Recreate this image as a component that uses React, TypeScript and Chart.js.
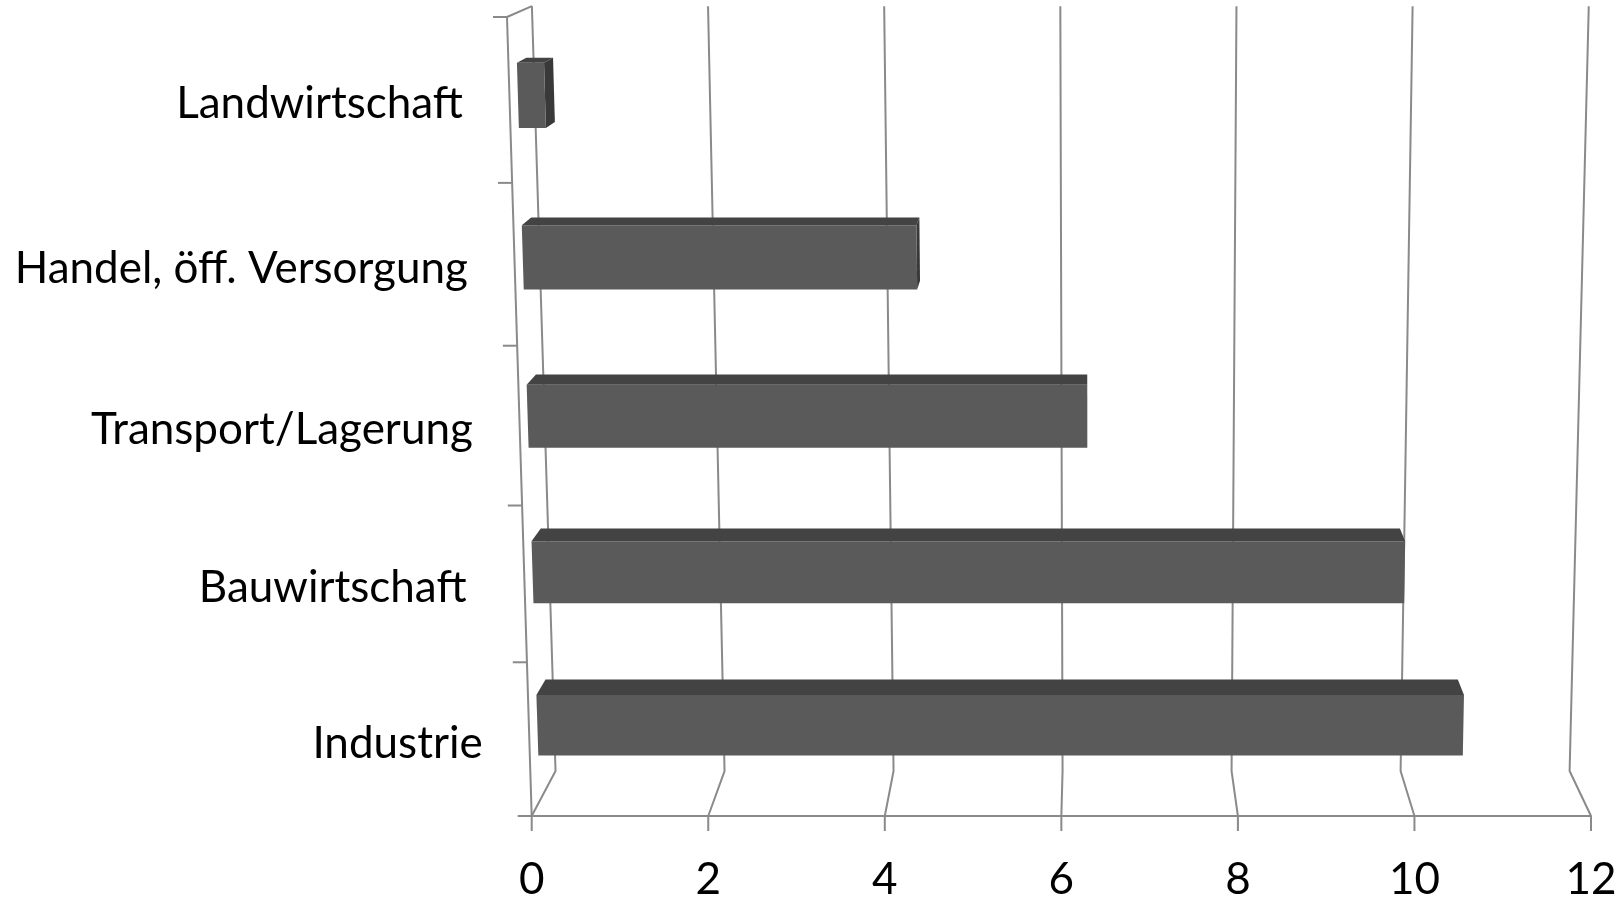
import React, { useEffect, useRef } from "react";
import { Chart, registerables } from "chart.js";

Chart.register(...registerables);

// Sectors and their values
const CATEGORIES = [
  "Landwirtschaft",
  "Handel, öff. Versorgung",
  "Transport/Lagerung",
  "Bauwirtschaft ",
  "Industrie",
];
const VALUES = [0.3, 4.4, 6.3, 9.9, 10.6];
const X_TICKS = [0, 2, 4, 6, 8, 10, 12];

// Look of the pseudo-3D box
const FRONT_COLOR = "#5a5a5a";
const TOP_COLOR = "#434343";
const SIDE_COLOR = "#393939";
const GRID_COLOR = "#8a8a8a";
const FONT = "44px Lato";

// Perspective parameters of the 3D frame
const LEAN_LEFT = 24.7; // left front edge leans left towards the top
const LEAN_RIGHT = 20; // right front edge leans right towards the top
const DEPTH = 0.0427; // shrink towards the vanishing point for full depth
const WARP = 5.95e-5; // vertical foreshortening of the rows
const BAR_FRONT = 0.34;
const BAR_BACK = 0.72;

type Area = { left: number; right: number; top: number; bottom: number };

function project(ca: Area, p: number, y: number, d: number): [number, number] {
  const t = (y - ca.top) / (ca.bottom - ca.top);
  const u = (p - ca.left) / (ca.right - ca.left);
  const lf = ca.left - LEAN_LEFT * (1 - t);
  const rf = ca.right + LEAN_RIGHT * (1 - t);
  const xf = lf + u * (rf - lf);
  const yw = y + WARP * (y - ca.top) * (ca.bottom - y);
  const vx = ca.left + 0.527 * (ca.right - ca.left);
  const vy = ca.top - 254;
  return [xf + d * DEPTH * (vx - xf), yw + d * DEPTH * (vy - yw)];
}

const frame3d = {
  id: "frame3d",
  beforeDatasetsDraw(chart: any) {
    const { ctx, chartArea: ca, scales } = chart;
    const xs = scales.x;
    const ys = scales.y;
    ctx.save();
    ctx.strokeStyle = GRID_COLOR;
    ctx.lineWidth = 2;
    ctx.lineJoin = "round";

    // back wall gridlines, floor diagonals and tick marks
    X_TICKS.forEach((v) => {
      const p = xs.getPixelForValue(v);
      const a = project(ca, p, ca.top, 1);
      const b = project(ca, p, ca.bottom, 1);
      const c = project(ca, p, ca.bottom, 0);
      ctx.beginPath();
      ctx.moveTo(a[0], a[1]);
      ctx.lineTo(b[0], b[1]);
      ctx.lineTo(c[0], c[1]);
      ctx.lineTo(c[0], c[1] + 15);
      ctx.stroke();
    });

    // left wall front edge and its top
    const lt = project(ca, ca.left, ca.top, 0);
    const lb = project(ca, ca.left, ca.bottom, 0);
    const lbk = project(ca, ca.left, ca.top, 1);
    ctx.beginPath();
    ctx.moveTo(lbk[0], lbk[1]);
    ctx.lineTo(lt[0], lt[1]);
    ctx.lineTo(lb[0], lb[1]);
    ctx.stroke();

    // floor front line
    const rb = project(ca, ca.right, ca.bottom, 0);
    ctx.beginPath();
    ctx.moveTo(lb[0], lb[1]);
    ctx.lineTo(rb[0], rb[1]);
    ctx.stroke();

    // category tick marks on the left edge
    const c0 = ys.getPixelForValue(0);
    const band = ys.getPixelForValue(1) - c0;
    for (let i = 0; i <= CATEGORIES.length; i++) {
      const yb = c0 - band / 2 + i * band;
      const q = project(ca, ca.left, yb, 0);
      ctx.beginPath();
      ctx.moveTo(q[0] - 14, q[1]);
      ctx.lineTo(q[0], q[1]);
      ctx.stroke();
    }
    ctx.restore();
  },
  beforeDatasetDraw() {
    // bars are drawn as boxes below
    return false;
  },
  afterDatasetsDraw(chart: any) {
    const { ctx, chartArea: ca } = chart;
    const meta = chart.getDatasetMeta(0);
    ctx.save();
    meta.data.forEach((el: any) => {
      const { x, y, base, height } = el.getProps(["x", "y", "base", "height"], true);
      const y0 = y - height / 2;
      const y1 = y + height / 2;
      const A = project(ca, base, y0, BAR_FRONT);
      const B = project(ca, x, y0, BAR_FRONT);
      const C = project(ca, x, y1, BAR_FRONT);
      const D = project(ca, base, y1, BAR_FRONT);
      const A1 = project(ca, base, y0, BAR_BACK);
      const B1 = project(ca, x, y0, BAR_BACK);
      const C1 = project(ca, x, y1, BAR_BACK);
      const poly = (pts: [number, number][], color: string) => {
        ctx.beginPath();
        ctx.moveTo(pts[0][0], pts[0][1]);
        for (let i = 1; i < pts.length; i++) ctx.lineTo(pts[i][0], pts[i][1]);
        ctx.closePath();
        ctx.fillStyle = color;
        ctx.fill();
      };
      poly([A, B, B1, A1], TOP_COLOR);
      if (B1[0] > B[0]) poly([B, B1, C1, C], SIDE_COLOR);
      poly([A, B, C, D], FRONT_COLOR);
    });
    ctx.restore();
  },
  afterDraw(chart: any) {
    const { ctx, chartArea: ca, scales } = chart;
    const xs = scales.x;
    const ys = scales.y;
    ctx.save();
    ctx.fillStyle = "#000";
    ctx.font = FONT;
    ctx.textBaseline = "alphabetic";

    ctx.textAlign = "right";
    CATEGORIES.forEach((label, i) => {
      const yc = ys.getPixelForValue(i);
      const q = project(ca, ca.left, yc, 0);
      ctx.fillText(label, q[0] - 46.5, q[1] + 18);
    });

    ctx.textAlign = "center";
    X_TICKS.forEach((v) => {
      const q = project(ca, xs.getPixelForValue(v), ca.bottom, 0);
      ctx.fillText(String(v), q[0], q[1] + 78);
    });
    ctx.restore();
  },
};

export default function App() {
  const canvasRef = useRef<HTMLCanvasElement | null>(null);

  useEffect(() => {
    if (!canvasRef.current) return;
    const chart = new Chart(canvasRef.current, {
      type: "bar",
      data: {
        labels: CATEGORIES,
        datasets: [
          {
            data: VALUES,
            backgroundColor: FRONT_COLOR,
            barThickness: 64,
          },
        ],
      },
      options: {
        indexAxis: "y",
        animation: false,
        responsive: true,
        maintainAspectRatio: false,
        devicePixelRatio: 1,
        layout: { padding: { left: 531.7, right: 30, top: 17, bottom: 82 } },
        plugins: { legend: { display: false }, tooltip: { enabled: false } },
        scales: {
          x: { display: false, min: 0, max: 12, ticks: { stepSize: 2 } },
          y: { display: false },
        },
      },
      plugins: [frame3d],
    });
    return () => chart.destroy();
  }, []);

  return (
    <div style={{ position: "fixed", left: 0, top: 0, width: 1621, height: 898, background: "#fff" }}>
      <canvas ref={canvasRef} />
    </div>
  );
}
